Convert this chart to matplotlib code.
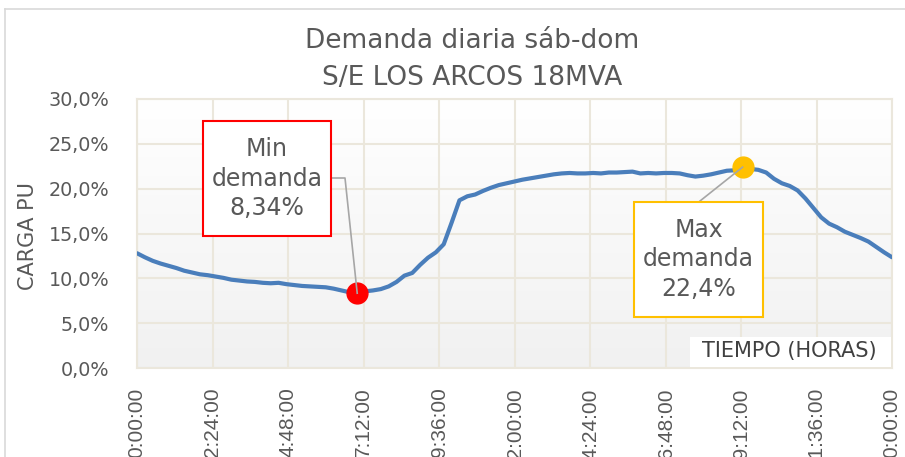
import numpy as np
import matplotlib
matplotlib.use("Agg")
import matplotlib.pyplot as plt
from matplotlib.colors import LinearSegmentedColormap
from matplotlib.patches import Rectangle
from matplotlib.lines import Line2D

# demand (p.u. %) every 15 min over the day
carga = [12.8, 12.35, 11.95, 11.65, 11.4, 11.15, 10.85, 10.65, 10.45, 10.35,
         10.2, 10.05, 9.85, 9.75, 9.65, 9.6, 9.5, 9.45, 9.5, 9.35,
         9.25, 9.15, 9.1, 9.05, 9.0, 8.85, 8.65, 8.45, 8.34, 8.55,
         8.65, 8.8, 9.1, 9.6, 10.3, 10.6, 11.5, 12.3, 12.9, 13.8,
         16.2, 18.7, 19.15, 19.35, 19.75, 20.1, 20.4, 20.6, 20.8, 21.0,
         21.15, 21.3, 21.45, 21.6, 21.7, 21.75, 21.7, 21.7, 21.75, 21.7,
         21.8, 21.8, 21.85, 21.9, 21.7, 21.75, 21.7, 21.75, 21.75, 21.7,
         21.5, 21.35, 21.45, 21.6, 21.8, 22.0, 22.05, 22.4, 22.2, 22.1,
         21.8, 21.1, 20.6, 20.3, 19.8, 18.9, 17.85, 16.8, 16.1, 15.7,
         15.2, 14.85, 14.5, 14.1, 13.5, 12.9, 12.35]
horas = np.arange(len(carga)) * 0.25

tick_horas = [0, 2.4, 4.8, 7.2, 9.6, 12.0, 14.4, 16.8, 19.2, 21.6, 24.0]
tick_labels = ["0:00:00", "2:24:00", "4:48:00", "7:12:00", "9:36:00", "12:00:00",
               "14:24:00", "16:48:00", "19:12:00", "21:36:00", "0:00:00"]
y_ticks = [0, 5, 10, 15, 20, 25, 30]
y_labels = ["0,0%", "5,0%", "10,0%", "15,0%", "20,0%", "25,0%", "30,0%"]

W, H = 905, 457
fig = plt.figure(figsize=(W / 100, H / 100), dpi=100)
gray = "#595959"
grid_c = "#ebe7dc"

# outer chart frame (only left and top visible)
fig.add_artist(Line2D([4.5 / W, 4.5 / W], [0, 1 - 9 / H], color="#d9d9d9", lw=1.2))
fig.add_artist(Line2D([4.5 / W, 1], [1 - 9 / H, 1 - 9 / H], color="#d9d9d9", lw=1.2))

ax = fig.add_axes([137 / W, 1 - 368 / H, (892 - 137) / W, (368 - 99) / H])
ax.set_xlim(0, 24)
ax.set_ylim(0, 30)

# background gradient
cmap = LinearSegmentedColormap.from_list("bg", ["#ffffff", "#f1f1f1"])
ax.imshow(np.linspace(0, 1, 256).reshape(-1, 1), extent=[0, 24, 0, 30],
          aspect="auto", cmap=cmap, zorder=0)

ax.set_xticks(tick_horas)
ax.set_xticklabels(tick_labels, rotation=90, family=["Liberation Sans", "DejaVu Sans"],
                   fontsize=15, color=gray, va="top")
ax.set_yticks(y_ticks)
ax.set_yticklabels(y_labels, fontsize=13.8, color=gray)
ax.tick_params(axis="x", length=0, pad=14)
ax.tick_params(axis="y", length=0, pad=20)
ax.grid(True, color=grid_c, lw=1.5, zorder=1)
for s in ax.spines.values():
    s.set_color(grid_c)
    s.set_linewidth(1.5)

ax.plot(horas, carga, color="#4a7ebb", lw=3, zorder=3, solid_capstyle="round")

i_min = int(np.argmin(carga))
i_max = int(np.argmax(carga))
ax.plot(horas[i_min], carga[i_min], "o", color="#ff0000", ms=15, zorder=5)
ax.plot(horas[i_max], carga[i_max], "o", color="#ffc000", ms=15, zorder=5)

# leader lines (display pixels)
pmin = ax.transData.transform((horas[i_min], carga[i_min]))
pmax = ax.transData.transform((horas[i_max], carga[i_max]))
fig.add_artist(Line2D([331, 345, pmin[0]], [H - 178, H - 178, pmin[1]],
                      transform=None, color="#a6a6a6", lw=1.2, zorder=6))
fig.add_artist(Line2D([700, pmax[0]], [H - 201, pmax[1]],
                      transform=None, color="#a6a6a6", lw=1.2, zorder=6))

# label boxes
def caja(x0, y0, x1, y1, color, texto):
    fig.add_artist(Rectangle((x0 / W, 1 - y1 / H), (x1 - x0) / W, (y1 - y0) / H,
                             transform=fig.transFigure, facecolor="white",
                             edgecolor=color, lw=1.5, zorder=7))
    fig.text((x0 + x1) / 2 / W, 1 - (y0 + y1) / 2 / H, texto, ha="center",
             va="center", fontsize=17, color=gray, linespacing=1.3, zorder=8)

caja(203, 121, 331, 236, "#ff0000",
     "Min\ndemanda\n" + f"{carga[i_min]:.2f}".replace(".", ",") + "%")
caja(634, 202, 763, 317, "#ffc000",
     "Max\ndemanda\n" + f"{carga[i_max]:.1f}".replace(".", ",") + "%")

# axis titles
fig.text(472 / W, 1 - 41 / H, "Demanda diaria sáb-dom", ha="center", va="center",
         fontsize=19, color=gray)
fig.text(472 / W, 1 - 78 / H, "S/E LOS ARCOS 18MVA", ha="center", va="center",
         fontsize=19, color=gray)
fig.text(28 / W, 1 - 236 / H, "CARGA PU", rotation=90, ha="center", va="center",
         fontsize=15, color=gray)
fig.add_artist(Rectangle((690 / W, 1 - 367 / H), (891 - 690) / W, 30 / H,
                         transform=fig.transFigure, facecolor="white",
                         edgecolor="none", zorder=4))
fig.text(789 / W, 1 - 351 / H, "TIEMPO (HORAS)", ha="center", va="center",
         fontsize=15, color="#404040", zorder=5)

fig.savefig("out.png", dpi=100)
